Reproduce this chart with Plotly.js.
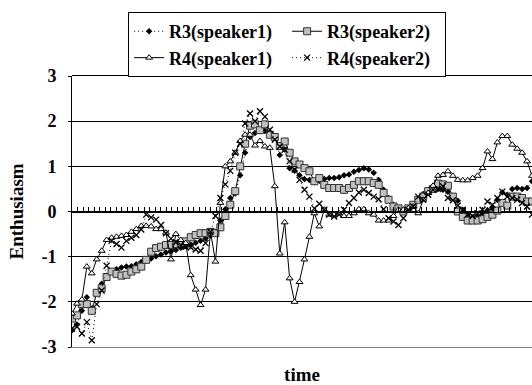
<!DOCTYPE html>
<html><head><meta charset="utf-8">
<script src="https://cdn.plot.ly/plotly-3.0.1.min.js"></script>
<style>html,body{margin:0;padding:0;background:#fff}</style>
</head><body>
<div id="chart" style="width:532px;height:385px"></div>
<script>
const seriesNames = ["R3(speaker1)", "R3(speaker2)", "R4(speaker1)", "R4(speaker2)"];
const r3s1 = [-2.63,-2.5,-2.2,-1.9,-2.15,-1.8,-1.6,-1.42,-1.33,-1.28,
-1.24,-1.22,-1.21,-1.17,-1.12,-1.08,-1.04,-0.99,-0.95,-0.91,
-0.88,-0.85,-0.8,-0.77,-0.73,-0.69,-0.65,-0.6,-0.53,-0.45,
-0.2,0.05,0.3,0.4,0.8,1.3,1.65,1.74,1.78,1.78,
1.72,1.65,1.25,1.37,0.96,0.9,0.8,0.72,0.7,0.65,
0.68,0.72,0.74,0.74,0.76,0.8,0.82,0.88,0.92,0.96,
0.93,0.86,0.7,0.48,0.3,0.15,0.04,0.0,0.07,0.13,
0.26,0.39,0.48,0.55,0.5,0.48,0.44,0.33,0.24,0.04,
-0.07,-0.13,-0.12,-0.05,0.03,0.07,0.26,0.42,0.37,0.5,
0.52,0.5,0.52,0.67];
const r3s2 = [-2.37,-2.3,-2.05,-2.05,-2.2,-1.8,-1.7,-1.45,-1.33,-1.38,
-1.42,-1.4,-1.33,-1.28,-1.22,-1.07,-0.89,-0.81,-0.78,-0.74,
-0.74,-0.72,-0.7,-0.66,-0.57,-0.52,-0.48,-0.48,-0.45,-0.48,
-0.35,-0.1,0.15,0.45,1.0,1.5,1.9,1.93,1.8,1.93,
1.7,1.65,1.45,1.55,1.3,1.11,1.04,0.96,0.89,0.67,
0.74,0.59,0.52,0.52,0.52,0.48,0.52,0.59,0.67,0.67,
0.67,0.63,0.59,0.41,0.26,0.11,0.07,0.0,0.07,0.15,
0.26,0.33,0.45,0.5,0.62,0.6,0.57,0.33,0.0,-0.12,
-0.2,-0.2,-0.2,-0.17,-0.12,-0.07,0.02,0.19,0.13,0.33,
0.33,0.3,0.22,0.22];
const r4s1 = [-2.26,-2.04,-1.95,-1.22,-1.37,-1.06,-0.87,-0.63,-0.58,-0.56,
-0.54,-0.52,-0.45,-0.39,-0.32,-0.32,-0.33,-0.39,-0.39,-0.47,
-1.06,-0.5,-0.63,-0.7,-1.41,-1.73,-2.07,-1.73,-0.44,-1.11,
0.19,1.0,1.11,1.3,1.56,1.7,1.7,1.46,1.56,1.44,
1.41,0.56,-0.93,-0.24,-1.48,-2.0,-1.56,-1.06,-0.56,-0.04,
-0.33,0.04,-0.07,-0.07,-0.04,-0.1,-0.1,-0.04,0.05,0.05,
-0.04,-0.07,-0.2,-0.2,-0.2,-0.1,0.04,0.04,0.07,0.11,
-0.04,0.26,0.41,0.57,0.79,0.81,0.89,0.79,0.7,0.69,
0.69,0.74,0.79,0.96,1.33,1.16,1.53,1.67,1.67,1.48,
1.39,1.3,1.11,0.79];
const r4s2 = [-2.59,-2.55,-2.7,-2.45,-2.85,-2.05,-1.75,-1.2,-0.65,-0.72,
-0.8,-0.65,-0.58,-0.52,-0.4,-0.07,-0.13,-0.18,-0.3,-0.48,
-0.6,-0.68,-0.74,-0.78,-0.8,-0.84,-0.87,-0.7,-0.45,-0.1,
0.3,0.6,0.9,1.3,1.5,1.95,2.17,2.0,2.22,2.1,
1.81,1.59,1.44,1.37,1.11,0.93,0.7,0.48,0.33,0.07,
0.17,0.04,-0.07,-0.11,-0.07,0.04,0.19,0.3,0.42,0.48,
0.41,0.33,0.27,0.05,-0.15,-0.22,-0.3,-0.15,0.04,0.11,
0.33,0.26,0.37,0.48,0.5,0.56,0.3,0.25,0.13,0.04,
-0.07,-0.1,-0.04,0.04,0.22,0.15,0.3,0.44,0.33,0.3,
0.26,0.19,0.11,-0.07];
const timeIdx = r3s1.map((_, i) => i);
const yTickVals = [-3,-2,-1,0,1,2,3];
const yTickText = ["-3","-2","-1","0","1","2","3"];
const axisTickCount = 83;

const F = 'Liberation Serif, Times New Roman, serif';
const bold = (s) => ({family: F, size: s, color: '#000', weight: 'bold'});

const traces = [
  {x: timeIdx, y: r3s1, name: seriesNames[0], type: 'scatter', mode: 'lines+markers',
   line: {color: '#000', width: 1, dash: '1px,3px'},
   marker: {symbol: 'diamond', size: 5, color: '#000', line: {color: '#000', width: 0}}},
  {x: timeIdx, y: r3s2, name: seriesNames[1], type: 'scatter', mode: 'lines+markers',
   line: {color: '#000', width: 1},
   marker: {symbol: 'square', size: 7, color: '#c0c0c0', line: {color: '#333', width: 1}}},
  {x: timeIdx, y: r4s1, name: seriesNames[2], type: 'scatter', mode: 'lines+markers',
   line: {color: '#000', width: 1},
   marker: {symbol: 'triangle-up', size: 6, color: '#fff', line: {color: '#000', width: 1}}},
  {x: timeIdx, y: r4s2, name: seriesNames[3], type: 'scatter', mode: 'lines+markers',
   line: {color: '#000', width: 1, dash: '1px,3px'},
   marker: {symbol: 'x-thin', size: 6, color: '#000', line: {color: '#000', width: 1.3}}},
  {x: [], y: [], xaxis: 'x2', yaxis: 'y2', showlegend: false, hoverinfo: 'skip'}
];

const layout = {
  width: 532, height: 385,
  margin: {l: 72, r: 0, t: 76, b: 38, pad: 0},
  paper_bgcolor: '#fff', plot_bgcolor: 'rgba(0,0,0,0)',
  showlegend: true,
  legend: {orientation: 'h', x: 0.122, y: 1.236, xanchor: 'left', yanchor: 'top',
    bordercolor: '#000', borderwidth: 1, bgcolor: '#fff',
    font: bold(18), entrywidth: 113, entrywidthmode: 'pixels', traceorder: 'normal'},
  xaxis: {range: [0, timeIdx.length - 1], showgrid: false, zeroline: false, showline: true,
    linecolor: '#808080', linewidth: 1,
    showticklabels: false, ticks: '', fixedrange: true,
    title: {text: 'time', font: bold(19), standoff: 20}},
  yaxis: {range: [-3, 3], tickvals: yTickVals, ticktext: yTickText, showgrid: true,
    gridcolor: '#000', gridwidth: 1, zeroline: false, showline: true, linecolor: '#000',
    linewidth: 1, ticks: 'outside', ticklen: 3, tickcolor: '#000', tickfont: bold(18),
    ticklabelstandoff: 8},
  xaxis2: {anchor: 'y2', range: [0, axisTickCount], dtick: 1, tick0: 0, ticks: 'inside',
    ticklen: 5, tickcolor: '#000', tickwidth: 1, showline: true, linecolor: '#000',
    mirror: true,
    showticklabels: false, showgrid: false, zeroline: false},
  yaxis2: {anchor: 'x2', domain: [0.5, 1], range: [0, 3], visible: false,
    showgrid: false, zeroline: false},
  annotations: [{text: 'Enthusiasm', xref: 'paper', yref: 'paper', x: -0.1196, y: 0.5,
    xanchor: 'center', yanchor: 'middle', textangle: -90, showarrow: false, font: bold(19)}]
};

Plotly.newPlot('chart', traces, layout, {staticPlot: true, displayModeBar: false});
</script>
</body></html>
